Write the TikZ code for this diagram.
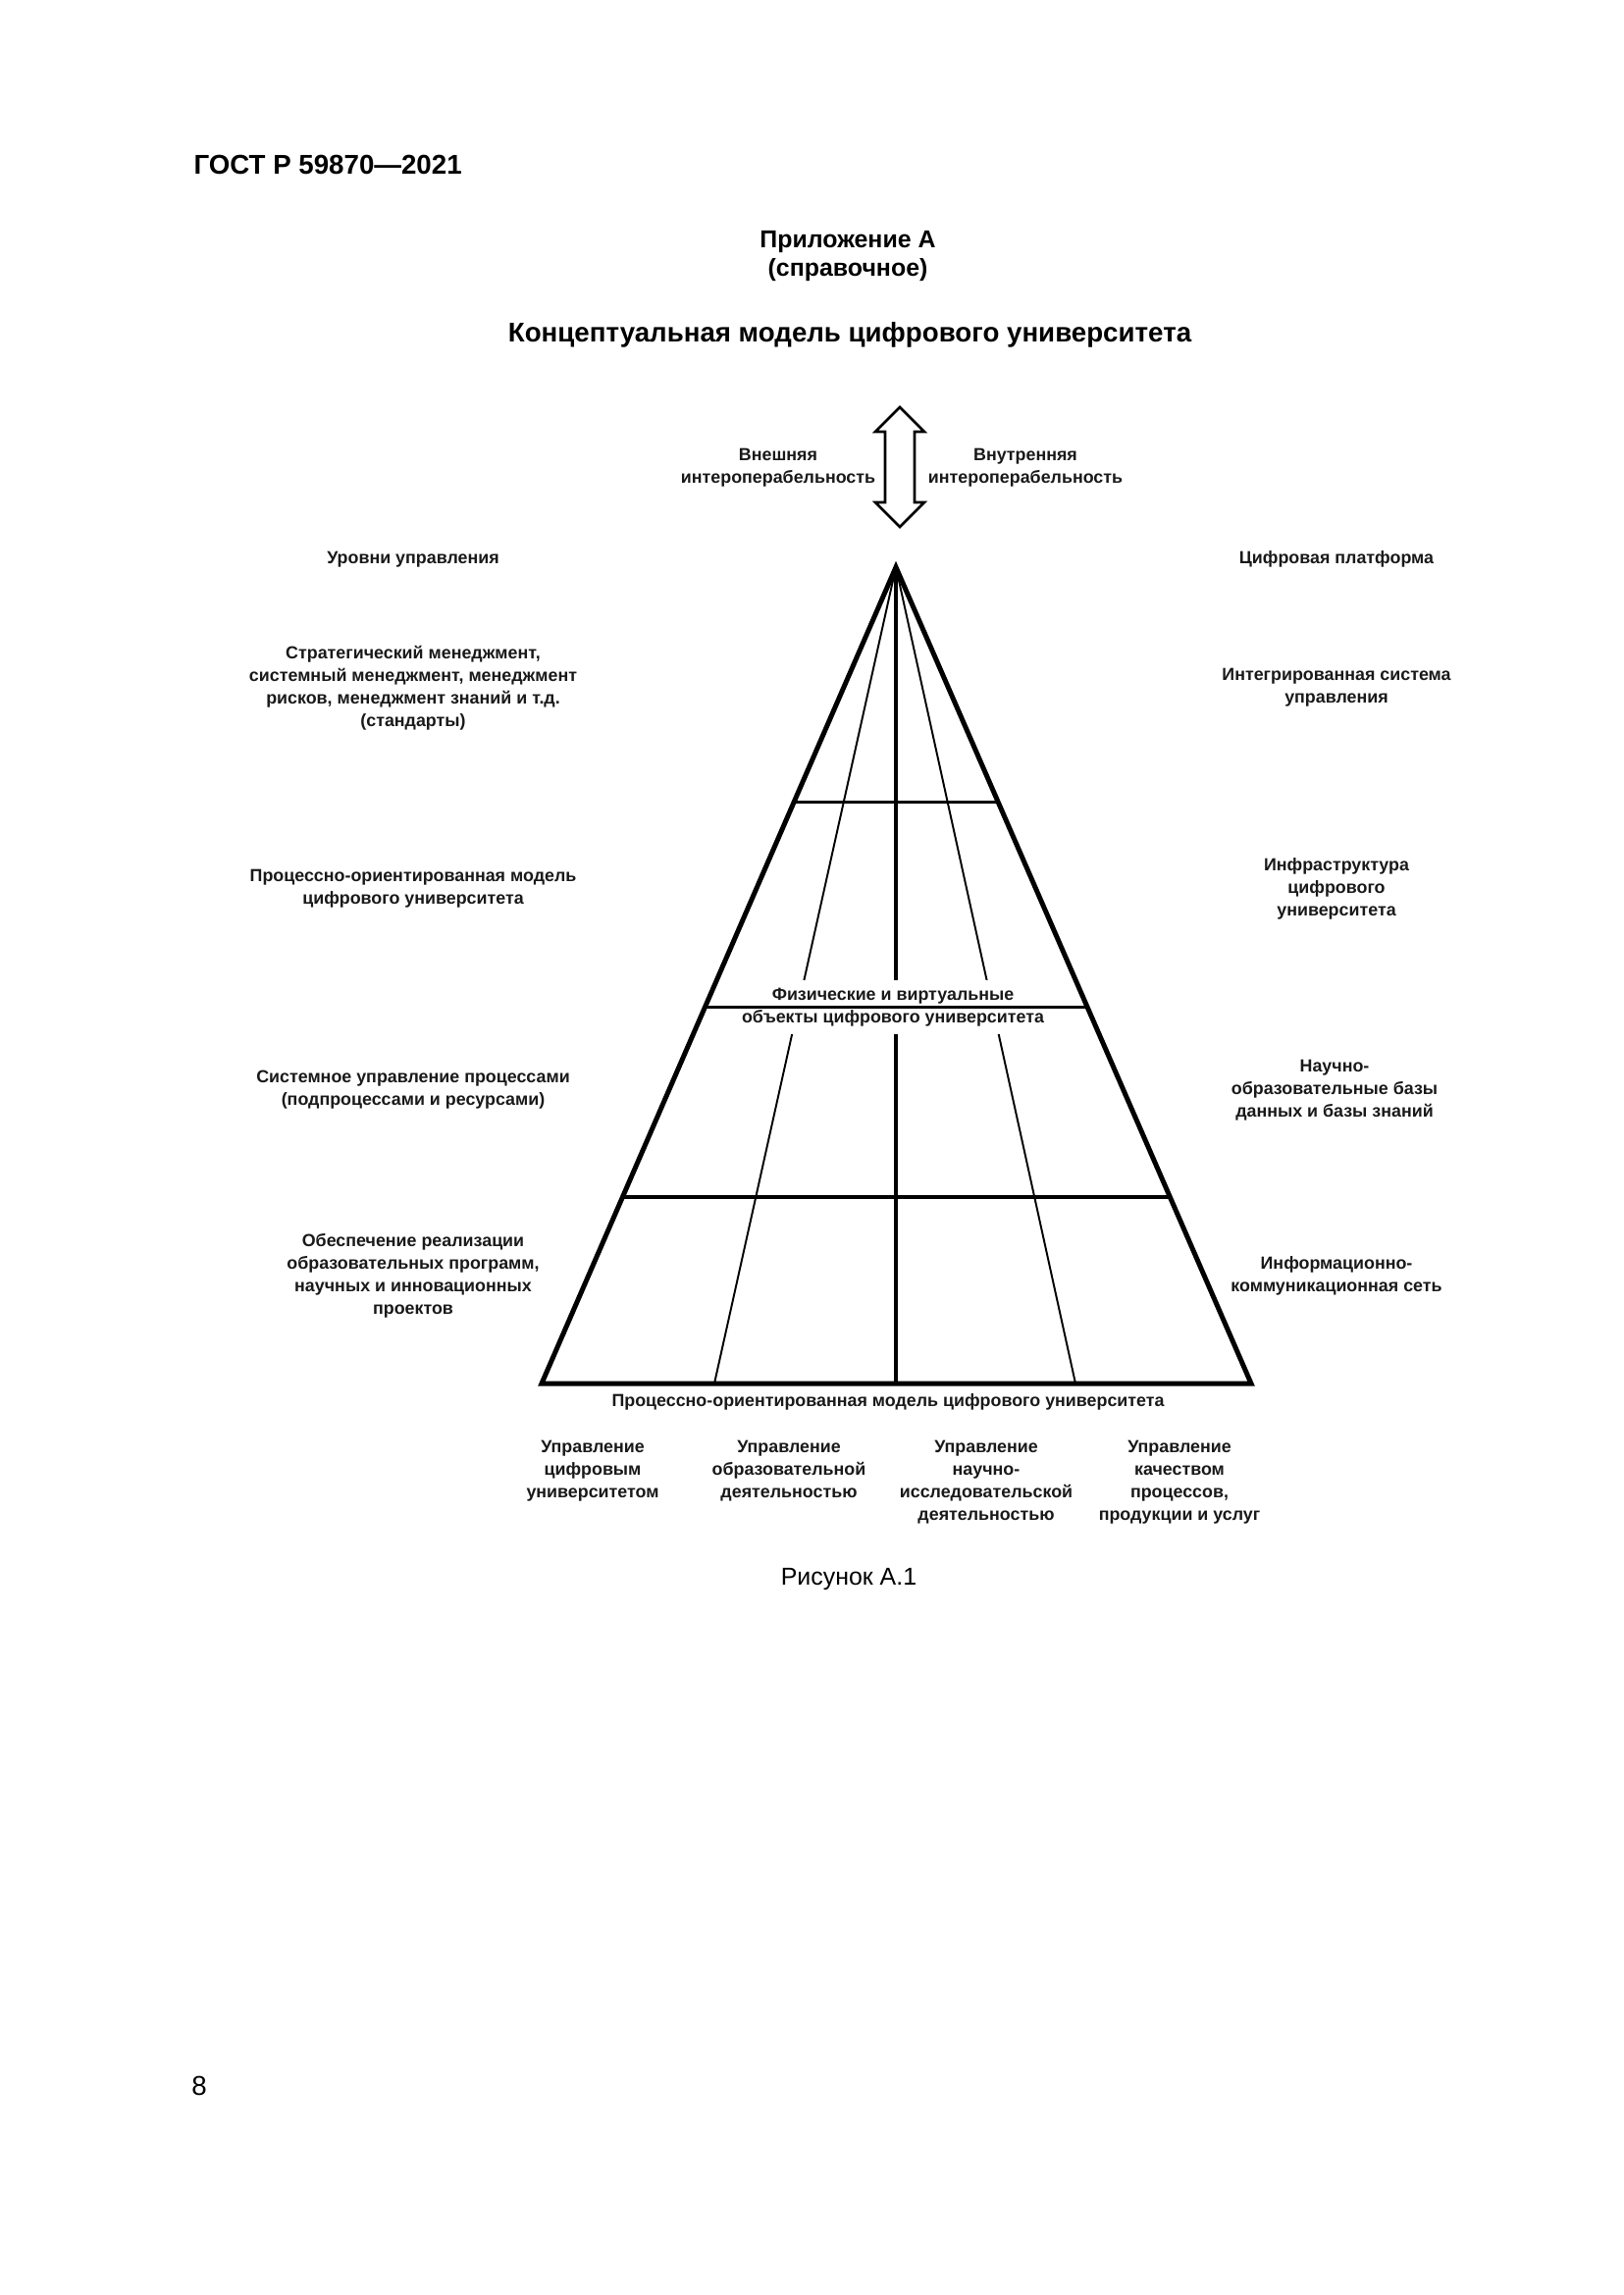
\documentclass[tikz,border=0pt]{standalone}
\usepackage{fontspec}
\setmainfont{Liberation Sans}
\usetikzlibrary{calc}
\begin{document}
\begin{tikzpicture}[x=0.126966mm,y=-0.126966mm,
  lbl/.style={font=\fontsize{6.45}{8.3}\selectfont\bfseries,align=center,inner sep=0pt,text=black!90},
  edge/.style={line width=1.8pt,line join=miter},
  level/.style={line width=1.1pt},
  ray/.style={line width=0.7pt},
  midray/.style={line width=1.2pt}]
\useasboundingbox (0,0) rectangle (1654,2339);
\fill[white] (0,0) rectangle (1654,2339);

% header texts
\node[anchor=west,inner sep=0pt,font=\fontsize{10}{12}\selectfont\bfseries] (hdr) at (197,168) {ГОСТ Р 59870—2021};
\node[align=center,inner sep=0pt,font=\fontsize{9}{10.7}\selectfont\bfseries] (app) at (864,261) {Приложение А\\(справочное)};
\node[inner sep=0pt,font=\fontsize{10}{12}\selectfont\bfseries] (ttl) at (866,341) {Концептуальная модель цифрового университета};

% double arrow
\draw[line width=1pt,line join=miter] (917,415) -- (942,440) -- (932,440) -- (932,512) -- (942,512)
  -- (917,537) -- (892,512) -- (902,512) -- (902,440) -- (892,440) -- cycle;
\node[lbl] (ext) at (793,477) {Внешняя\\интероперабельность};
\node[lbl] (int) at (1045,477) {Внутренняя\\интероперабельность};

% column headings
\node[lbl] (lh) at (421,570) {Уровни управления};
\node[lbl] (rh) at (1362,570) {Цифровая платформа};

% left labels
\node[lbl] (l1) at (421,701) {Стратегический менеджмент,\\системный менеджмент, менеджмент\\рисков, менеджмент знаний и т.д.\\(стандарты)};
\node[lbl] (l2) at (421,906) {Процессно-ориентированная модель\\цифрового университета};
\node[lbl] (l3) at (421,1111) {Системное управление процессами\\(подпроцессами и ресурсами)};
\node[lbl] (l4) at (421,1300) {Обеспечение реализации\\образовательных программ,\\научных и инновационных\\проектов};

% right labels
\node[lbl] (r1) at (1362,701) {Интегрированная система\\управления};
\node[lbl] (r2) at (1362,906) {Инфраструктура\\цифрового\\университета};
\node[lbl] (r3) at (1360,1111) {Научно-\\образовательные базы\\данных и базы знаний};
\node[lbl] (r4) at (1362,1300) {Информационно-\\коммуникационная сеть};

% pyramid
\coordinate (apex) at (913,578);
\coordinate (bl) at (552,1410);
\coordinate (br) at (1275,1410);
\coordinate (b1) at (728,1410);
\coordinate (b2) at (913,1410);
\coordinate (b3) at (1096,1410);
\draw[ray] (apex) -- (b1);
\draw[ray] (apex) -- (b3);
\draw[midray] (apex) -- (b2);

\node[lbl,fill=white,inner xsep=1pt,inner ysep=3pt] (phys) at (910,1026.5) {Физические и виртуальные\\объекты цифрового университета};

\foreach \t/\n in {0.2873/a,0.5385/b,0.7716/c}{
  \coordinate (L\n) at ($(apex)!\t!(bl)$);
  \coordinate (R\n) at ($(apex)!\t!(br)$);
  \draw[level] (L\n) -- (R\n);
}
\draw[edge] (apex) -- (bl) -- (br) -- cycle;

% bottom labels
\node[lbl] (base) at (905,1429) {Процессно-ориентированная модель цифрового университета};
\node[lbl] (c1) at (604,1499) {Управление\\цифровым\\университетом};
\node[lbl] (c2) at (804,1499) {Управление\\образовательной\\деятельностью};
\node[lbl] (c3) at (1005,1511) {Управление\\научно-\\исследовательской\\деятельностью};
\node[lbl] (c4) at (1202,1511) {Управление\\качеством\\процессов,\\продукции и услуг};

\node[inner sep=0pt,font=\fontsize{9}{11}\selectfont] (fig) at (865,1609) {Рисунок А.1};
\node[inner sep=0pt,font=\fontsize{10}{12}\selectfont] (pg) at (203,2126) {8};
\end{tikzpicture}
\end{document}
